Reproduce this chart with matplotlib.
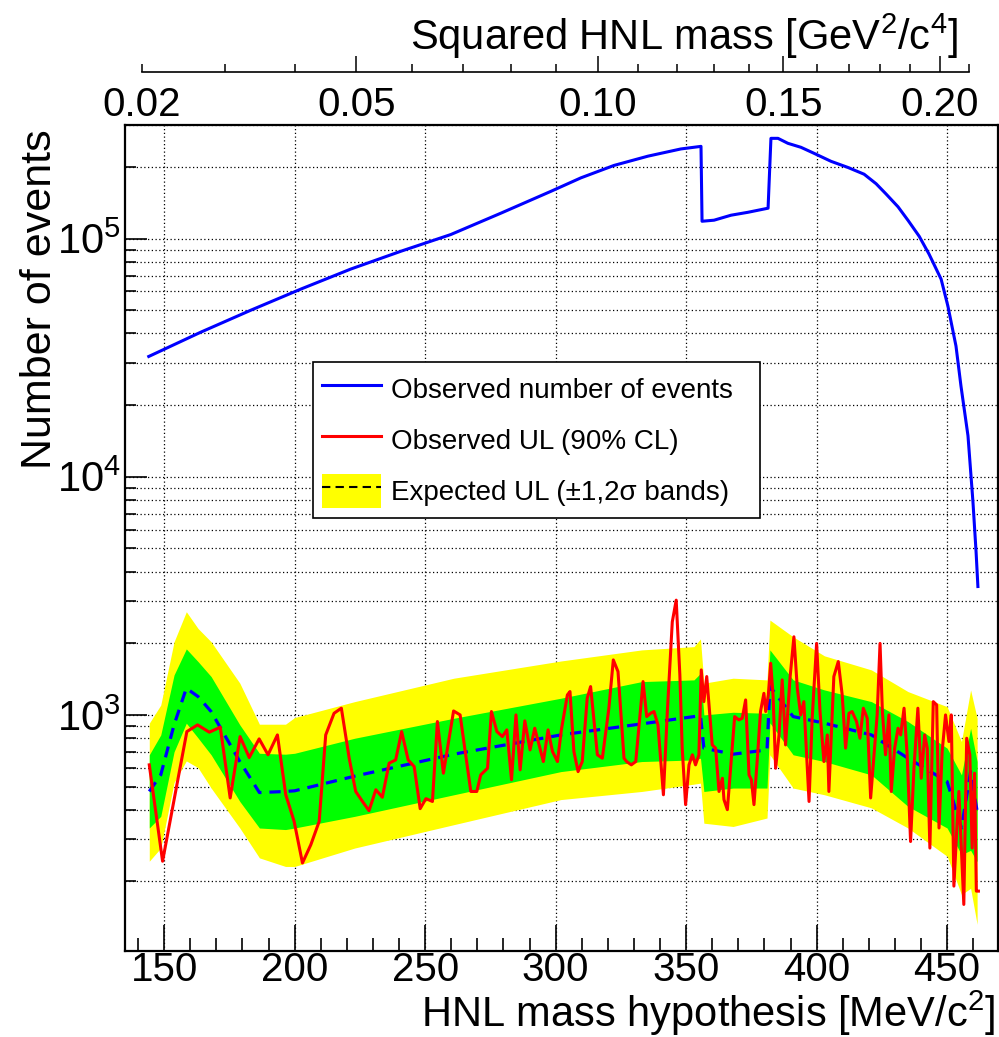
import numpy as np
import matplotlib
matplotlib.use("Agg")
import matplotlib.pyplot as plt
from matplotlib.ticker import FixedLocator, LogLocator, NullFormatter, FuncFormatter
from matplotlib.lines import Line2D
from matplotlib.patches import Patch

plt.rcParams["font.family"] = ["Liberation Sans", "DejaVu Sans"]
plt.rcParams["mathtext.fontset"] = "custom"
plt.rcParams["mathtext.rm"] = "Liberation Sans"
plt.rcParams["mathtext.it"] = "Liberation Sans:italic"
plt.rcParams["mathtext.bf"] = "Liberation Sans:bold"

# observed number of events (blue)
evt_mass = [144.1, 164.1, 183.3, 202.4, 221.5, 240.7, 259.8, 279.1, 298.2, 309.7,
            322.4, 335.4, 348.0, 355.7, 356.1, 360.7, 367.2, 373.7, 381.4, 382.5,
            385.2, 389.0, 394.0, 399.0, 405.5, 412.0, 418.2, 422.8, 426.6, 431.2,
            435.1, 439.3, 443.1, 447.7, 450.3, 453.4, 455.3, 458.0, 459.9, 461.1,
            461.8]
evt_count = [32000, 40500, 50100, 61400, 74500, 88500, 104000, 128000, 158000, 180000,
             203000, 222000, 238000, 244000, 118300, 119500, 125400, 129000, 134200, 263700,
             263700, 251300, 241800, 228200, 211200, 199000, 186400, 170000, 154000, 136000,
             119000, 102300, 86000, 67600, 52100, 35400, 24100, 14860, 7850, 4840,
             3460]

# expected UL with 1 and 2 sigma bands
exp_mass = [144.3, 148.7, 153.8, 158.5, 163.0, 168.0, 179.0, 186.5, 196.5, 200.0,
            223.0, 261.0, 302.0, 333.0, 353.0, 355.5, 356.8, 368.0, 381.0, 382.1,
            391.0, 403.0, 421.0, 435.0, 450.0, 455.5, 459.0, 461.5]
exp_med = [477, 560, 908, 1294, 1194, 1033, 637, 472, 477, 480,
           553, 684, 824, 917, 984, 994, 725, 684, 713, 1315,
           984, 923, 824, 658, 525, 335, 578, 394]
exp_lo1 = [335, 375, 700, 923, 800, 680, 433, 335, 330, 335,
           375, 462, 578, 637, 647, 658, 477, 493, 493, 926,
           680, 637, 560, 413, 335, 259, 270, 242]
exp_hi1 = [680, 824, 1472, 1893, 1674, 1449, 908, 690, 684, 690,
           798, 968, 1175, 1380, 1403, 1495, 1000, 1026, 1016, 1875,
           1403, 1273, 1137, 938, 725, 560, 879, 637]
exp_lo2 = [243, 276, 520, 641, 600, 493, 335, 251, 231, 231,
           276, 346, 441, 477, 512, 517, 351, 340, 369, 680,
           493, 462, 407, 335, 255, 176, 187, 132]
exp_hi2 = [923, 1100, 2028, 2712, 2306, 2028, 1359, 914, 914, 975,
           1137, 1426, 1684, 1875, 1935, 2084, 1359, 1426, 1403, 2502,
           2128, 1770, 1545, 1253, 1083, 773, 1273, 968]

# observed UL (red)
ul_mass = [144.3, 149.4, 158.7, 162.8, 167.3, 171.5, 175.3, 179.1, 182.6, 186.4,
           189.8, 193.4, 196.6, 199.8, 203.0, 206.2, 209.4, 211.9, 215.1, 217.9,
           220.9, 223.4, 226.0, 228.5, 231.1, 233.6, 236.2, 238.7, 241.0, 243.5,
           245.8, 248.1, 250.3, 252.8, 254.7, 257.0, 260.9, 263.4, 267.5, 269.8,
           271.3, 273.9, 275.4, 277.5, 279.6, 281.3, 283.1, 284.8, 286.4, 288.2,
           290.2, 292.0, 295.3, 297.1, 298.8, 300.7, 302.2, 304.5, 305.5, 307.0,
           308.6, 310.2, 312.1, 313.4, 316.0, 317.9, 320.4, 322.1, 323.9, 326.2,
           327.2, 329.0, 330.7, 333.5, 334.9, 336.4, 337.7, 339.2, 341.3, 342.8,
           344.7, 346.2, 347.6, 348.5, 349.8, 351.1, 352.4, 353.6, 354.9, 355.8,
           356.8, 357.9, 360.0, 361.3, 362.6, 363.9, 364.5, 365.8, 368.6, 370.2,
           371.5, 372.8, 374.1, 375.0, 376.0, 377.3, 378.5, 379.8, 380.5, 381.5,
           382.4, 383.3, 384.3, 385.6, 386.8, 388.1, 389.8, 391.3, 392.6, 393.9,
           395.1, 397.1, 398.3, 400.0, 401.3, 402.8, 404.1, 404.7, 406.6, 408.3,
           409.8, 411.1, 412.4, 413.6, 415.3, 416.6, 417.9, 419.4, 420.7, 422.0,
           423.2, 424.3, 425.2, 426.4, 427.7, 428.6, 429.9, 431.2, 432.2, 433.5,
           434.7, 436.0, 437.3, 438.8, 440.1, 441.4, 442.4, 443.4, 444.7, 446.0,
           446.9, 448.1, 449.4, 450.7, 451.6, 452.6, 453.6, 454.5, 455.4, 456.4,
           457.5, 458.7, 459.6, 460.5, 461.2, 462.0]
ul_value = [617, 243, 851, 908, 846, 888, 448, 811, 662, 793,
            680, 824, 462, 357, 239, 285, 357, 824, 1016, 1067,
            658, 477, 433, 396, 485, 451, 627, 647, 851, 647,
            607, 404, 445, 433, 938, 569, 1039, 1000, 477, 477,
            560, 597, 1033, 851, 811, 865, 534, 1000, 588, 944,
            713, 879, 637, 865, 702, 637, 865, 1213, 1253, 702,
            578, 637, 1175, 1315, 680, 658, 1066, 1702, 1520, 658,
            637, 617, 637, 1380, 984, 1016, 1033, 908, 462, 1033,
            2460, 3033, 1472, 725, 420, 617, 680, 617, 680, 1545,
            1137, 1449, 748, 725, 477, 542, 441, 400, 984, 953,
            968, 1156, 560, 534, 420, 658, 1033, 1232, 1033, 1213,
            1648, 1213, 597, 824, 1403, 748, 1426, 2128, 1294, 1000,
            1137, 433, 968, 1996, 1033, 637, 824, 477, 1449, 1675,
            1213, 725, 1016, 1033, 938, 798, 1067, 968, 448, 680,
            1000, 1996, 1033, 680, 1000, 477, 725, 879, 824, 1067,
            680, 294, 597, 1067, 542, 824, 725, 276, 1137, 1101,
            335, 702, 1000, 773, 1000, 191, 314, 477, 285, 160,
            798, 680, 276, 569, 182, 182]

sq_major = [0.05, 0.10, 0.15, 0.20]
sq_minor = [0.02, 0.03, 0.04, 0.06, 0.07, 0.08, 0.09, 0.11, 0.12, 0.13, 0.14,
            0.16, 0.17, 0.18, 0.19, 0.21]


def to_sq(m):
    return (np.asarray(m, dtype=float) / 1000.0) ** 2


def from_sq(s):
    return np.sqrt(np.clip(np.asarray(s, dtype=float), 0, None)) * 1000.0


W, H = 999, 1037
fig = plt.figure(figsize=(W / 100, H / 100), dpi=100)
ax = fig.add_axes([125 / W, 1 - 951 / H, 873 / W, 826 / H])

ax.fill_between(exp_mass, exp_lo2, exp_hi2, color="#ffff00", lw=0)
ax.fill_between(exp_mass, exp_lo1, exp_hi1, color="#00ff00", lw=0)
ax.plot(exp_mass, exp_med, color="#0000ff", lw=2.3, ls=(0, (3.5, 2.5)))
ax.plot(ul_mass, ul_value, color="#ff0000", lw=2.2)
ax.plot(evt_mass, evt_count, color="#0000ff", lw=2.2)

ax.set_yscale("log")
ax.set_xlim(135, 469.5)
ax.set_ylim(102, 3.0e5)

ax.xaxis.set_major_locator(FixedLocator([150, 200, 250, 300, 350, 400, 450]))
ax.xaxis.set_minor_locator(FixedLocator(np.arange(140, 470, 10)))
ax.yaxis.set_major_locator(LogLocator(base=10, numticks=10))
ax.yaxis.set_minor_locator(LogLocator(base=10, subs=np.arange(2, 10), numticks=20))
ax.yaxis.set_minor_formatter(NullFormatter())

ax.set_axisbelow(True)
grid_style = dict(color="black", ls=(0, (1, 2)), lw=0.9)
ax.grid(True, which="major", axis="x", **grid_style)
ax.grid(True, which="both", axis="y", **grid_style)

ax.tick_params(axis="x", which="major", direction="in", length=19, width=1.2,
               labelsize=29, pad=0)
ax.tick_params(axis="x", which="minor", direction="in", length=9.5, width=1.2)
ax.tick_params(axis="y", which="major", direction="in", length=16, width=1.2,
               labelsize=30, pad=3)
ax.tick_params(axis="y", which="minor", direction="in", length=8, width=1.2)
for sp in ax.spines.values():
    sp.set_linewidth(1.6)

ax.set_xlabel("HNL mass hypothesis [MeV/c$^{2}$]", fontsize=30, loc="right")
ax.xaxis.set_label_coords(0.997, -0.045)
ax.set_ylabel("Number of events", fontsize=31, loc="top")
ax.yaxis.set_label_coords(-0.074, 0.995)

# squared-mass axis drawn above the frame
sec = ax.secondary_xaxis(1.064, functions=(to_sq, from_sq))
sec.set_alignment("bottom")
sec.set_xticks(sq_major, ["0.05", "0.10", "0.15", "0.20"])
sec.xaxis.set_minor_locator(FixedLocator(sq_minor))
sec.xaxis.set_minor_formatter(FuncFormatter(lambda v, p: "0.02" if abs(v - 0.02) < 1e-6 else ""))
sec.spines["bottom"].set_bounds(0.02, 0.21)
sec.spines["bottom"].set_linewidth(1.2)
sec.tick_params(axis="x", which="major", direction="in", length=11.5, width=1.1,
                labelsize=29, pad=10)
sec.tick_params(axis="x", which="minor", direction="in", length=6, width=1.1,
                labelsize=29, pad=10)
fig.text(958 / W, 1 - 36 / H, "Squared HNL mass [GeV$^{2}$/c$^{4}$]",
         fontsize=30, ha="right", va="center")

handles = [Line2D([], [], color="#0000ff", lw=2.2),
           Line2D([], [], color="#ff0000", lw=2.2),
           (Patch(facecolor="#ffff00", edgecolor="none"),
            Line2D([], [], color="black", lw=1.5, ls=(0, (4, 2.5))))]
labels = ["Observed number of events", "Observed UL (90% CL)",
          "Expected UL (\u00b11,2\u03c3 bands)"]
leg = ax.legend(handles, labels, loc="upper left",
                bbox_to_anchor=(0.215, 0.505, 0.512, 0.208), mode="expand",
                borderaxespad=0, fontsize=20, handlelength=2.1,
                handleheight=1.5, handletextpad=0.37, labelspacing=0.62,
                borderpad=0.35, fancybox=False, framealpha=1,
                edgecolor="black")
leg.get_frame().set_linewidth(1.2)

fig.savefig("out.png", dpi=100)
